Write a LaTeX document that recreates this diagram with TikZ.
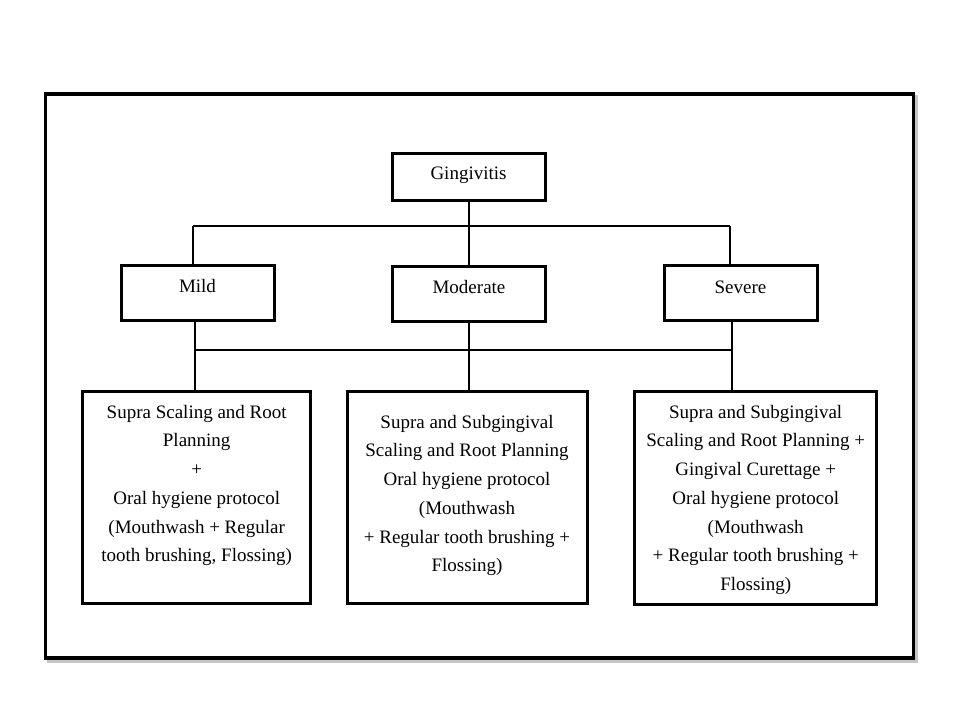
\documentclass[tikz,border=0pt]{standalone}
\usepackage{fontspec}
\setmainfont{Liberation Serif}
\begin{document}
\begin{tikzpicture}[x=1pt,y=-1pt,
  box/.style={draw=black,line width=3pt,minimum width=#1,inner sep=0pt},
  lvl/.style={box=153pt,minimum height=55pt},
  txt/.style={inner sep=0pt,align=center,anchor=north,font=\fontsize{19}{28.7}\selectfont},
  conn/.style={draw=black,line width=1.5pt}]
\useasboundingbox (0,0) rectangle (960,720);
% outer frame with shadow
\draw[line width=3.5pt,gray!45] (48.5,97) rectangle (916.5,661);
\draw[line width=3.5pt,black,fill=white] (45.5,94) rectangle (913.5,658);
% top node
\node[box=153pt,minimum height=47pt] (g) at (468.5,176.5) {};
\node[txt] (gt) at (468.5,164) {\rule{0pt}{15pt}Gingivitis};
% level nodes
\node[lvl] (mild) at (197.5,292.5) {};
\node[lvl] (mod) at (469,293.5) {};
\node[lvl] (sev) at (740.5,293) {};
\node[txt] (mildt) at (197.5,277.5) {\rule{0pt}{15pt}Mild};
\node[txt] (modt) at (469,278.5) {\rule{0pt}{15pt}Moderate};
\node[txt] (sevt) at (740.5,278) {\rule{0pt}{15pt}Severe};
% bottom boxes
\node[box=228pt,minimum height=212pt] (b1) at (196.7,497) {};
\node[box=240pt,minimum height=212pt] (b2) at (467,497) {};
\node[box=241.5pt,minimum height=213pt] (b3) at (755.7,497.5) {};
\node[txt] (b1t) at (196.7,403) {\rule{0pt}{15pt}Supra Scaling and Root\\Planning\\+\\Oral hygiene protocol\\(Mouthwash + Regular\\tooth brushing, Flossing)};
\node[txt] (b2t) at (467,413) {\rule{0pt}{15pt}Supra and Subgingival\\Scaling and Root Planning\\Oral hygiene protocol\\(Mouthwash\\+ Regular tooth brushing +\\Flossing)};
\node[txt] (b3t) at (755.7,403) {\rule{0pt}{15pt}Supra and Subgingival\\Scaling and Root Planning +\\Gingival Curettage +\\Oral hygiene protocol\\(Mouthwash\\+ Regular tooth brushing +\\Flossing)};
% connectors level 1
\coordinate (tl) at (193,226);
\coordinate (tr) at (730,226);
\draw[conn] (tl) -- (tr);
\draw[conn] (g.south -| mod.north) -- (mod.north);
\draw[conn] (tl) -- (tl |- mild.north);
\draw[conn] (tr) -- (tr |- sev.north);
% connectors level 2
\coordinate (ml) at (195,350);
\coordinate (mr) at (732,350);
\draw[conn] (ml) -- (mr);
\draw[conn] (ml |- mild.south) -- (ml |- b1.north);
\draw[conn] (mod.south) -- (mod.south |- b2.north);
\draw[conn] (mr |- sev.south) -- (mr |- b3.north);
\end{tikzpicture}
\end{document}
